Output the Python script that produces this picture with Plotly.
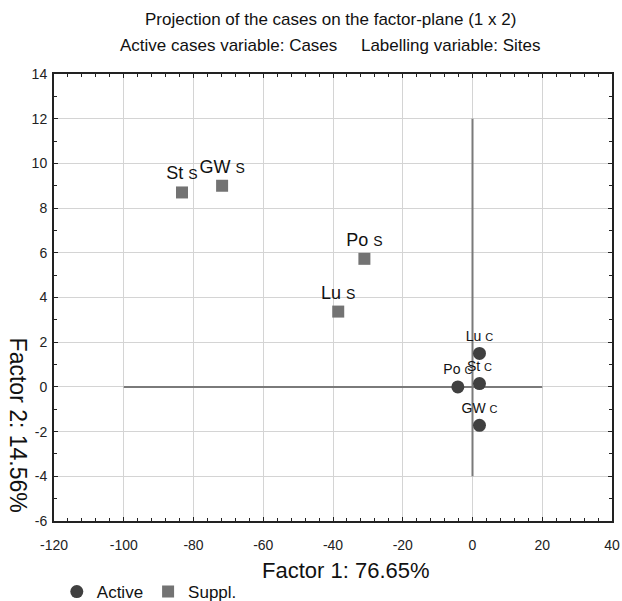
import plotly.graph_objects as go

# Data
active_labels = ["Lu", "St", "Po", "GW"]
active_x = [2.0, 2.0, -4.2, 2.0]
active_y = [1.5, 0.15, 0.0, -1.72]

suppl_labels = ["St", "GW", "Po", "Lu"]
suppl_x = [-83.3, -71.8, -31.0, -38.5]
suppl_y = [8.7, 9.0, 5.73, 3.37]

x_ticks = [-120, -100, -80, -60, -40, -20, 0, 20, 40]
x_ticktext = ["-120", "-100", "-80", "-60", "-40", "-20", "0", "20", "40"]
y_ticks = [-6, -4, -2, 0, 2, 4, 6, 8, 10, 12, 14]
y_ticktext = ["-6", "-4", "-2", "0", "2", "4", "6", "8", "10", "12", "14"]

hline_x = [-100, 20]
hline_y = [0, 0]
vline_x = [0, 0]
vline_y = [-4, 12]

FONT = "Liberation Sans, Arial, sans-serif"
TXT = "#111111"

fig = go.Figure()

fig.add_trace(go.Scatter(x=hline_x, y=hline_y, mode="lines",
                         line=dict(color="#7a7a7a", width=2), showlegend=False, hoverinfo="skip"))
fig.add_trace(go.Scatter(x=vline_x, y=vline_y, mode="lines",
                         line=dict(color="#7a7a7a", width=2), showlegend=False, hoverinfo="skip"))

fig.add_trace(go.Scatter(
    x=active_x, y=active_y, mode="markers+text", name="Active",
    marker=dict(symbol="circle", size=13, color="#404040"),
    text=[f"{l} <span style='font-size:11px'>C</span>" for l in active_labels],
    textposition="top center",
    textfont=dict(family=FONT, size=14, color=TXT),
))
fig.add_trace(go.Scatter(
    x=suppl_x, y=suppl_y, mode="markers+text", name="Suppl.",
    marker=dict(symbol="square", size=12, color="#737373"),
    text=[f"{l} <span style='font-size:14px'>S</span>" for l in suppl_labels],
    textposition="top center",
    textfont=dict(family=FONT, size=18, color=TXT),
))

axis_common = dict(
    showgrid=True, gridcolor="#d4d4d4", gridwidth=1,
    showline=True, linecolor="#222222", linewidth=2, mirror="allticks",
    ticks="inside", ticklen=4, tickcolor="#222222", tickwidth=1,
    zeroline=False, automargin=False,
    tickfont=dict(family=FONT, size=14, color="#222222"),
)

fig.update_xaxes(range=[-120, 40], tickmode="array", tickvals=x_ticks, ticktext=x_ticktext,
                 minor=dict(dtick=4, tick0=-120, ticks="inside", ticklen=3, tickcolor="#222222", showgrid=False),
                 ticklabelstandoff=10, **axis_common)
fig.update_yaxes(range=[-6, 14], tickmode="array", tickvals=y_ticks, ticktext=y_ticktext,
                 minor=dict(dtick=1, tick0=-6, ticks="inside", ticklen=3, tickcolor="#222222", showgrid=False),
                 ticklabelstandoff=2, **axis_common)

fig.add_annotation(text="Projection of the cases on the factor-plane (1 x 2)", xref="paper", yref="paper",
                   x=0.495, y=1.121, showarrow=False, xanchor="center", yanchor="middle",
                   font=dict(family=FONT, size=17, color=TXT))
fig.add_annotation(text="Active cases variable: Cases     Labelling variable: Sites", xref="paper", yref="paper",
                   x=0.495, y=1.063, showarrow=False, xanchor="center", yanchor="middle",
                   font=dict(family=FONT, size=17, color=TXT))
fig.add_annotation(text="Factor 1: 76.65%", xref="paper", yref="paper",
                   x=0.523, y=-0.110, showarrow=False, xanchor="center", yanchor="middle",
                   font=dict(family=FONT, size=22, color=TXT))
fig.add_annotation(text="Factor 2: 14.56%", xref="paper", yref="paper",
                   x=-0.064, y=0.215, showarrow=False, textangle=90,
                   font=dict(family=FONT, size=23, color=TXT),
                   xanchor="center", yanchor="middle")

fig.update_layout(
    width=622, height=601,
    margin=dict(l=54, r=10, t=74, b=80, autoexpand=False),
    paper_bgcolor="white", plot_bgcolor="white",
    legend=dict(orientation="h", x=0.005, xanchor="left", yref="container", y=0.015, yanchor="middle",
                font=dict(family=FONT, size=17, color=TXT), itemwidth=30),
    font=dict(family=FONT),
)

fig.write_html("out.html", config={"displayModeBar": False},
               post_script="document.body.style.margin='0px';")
